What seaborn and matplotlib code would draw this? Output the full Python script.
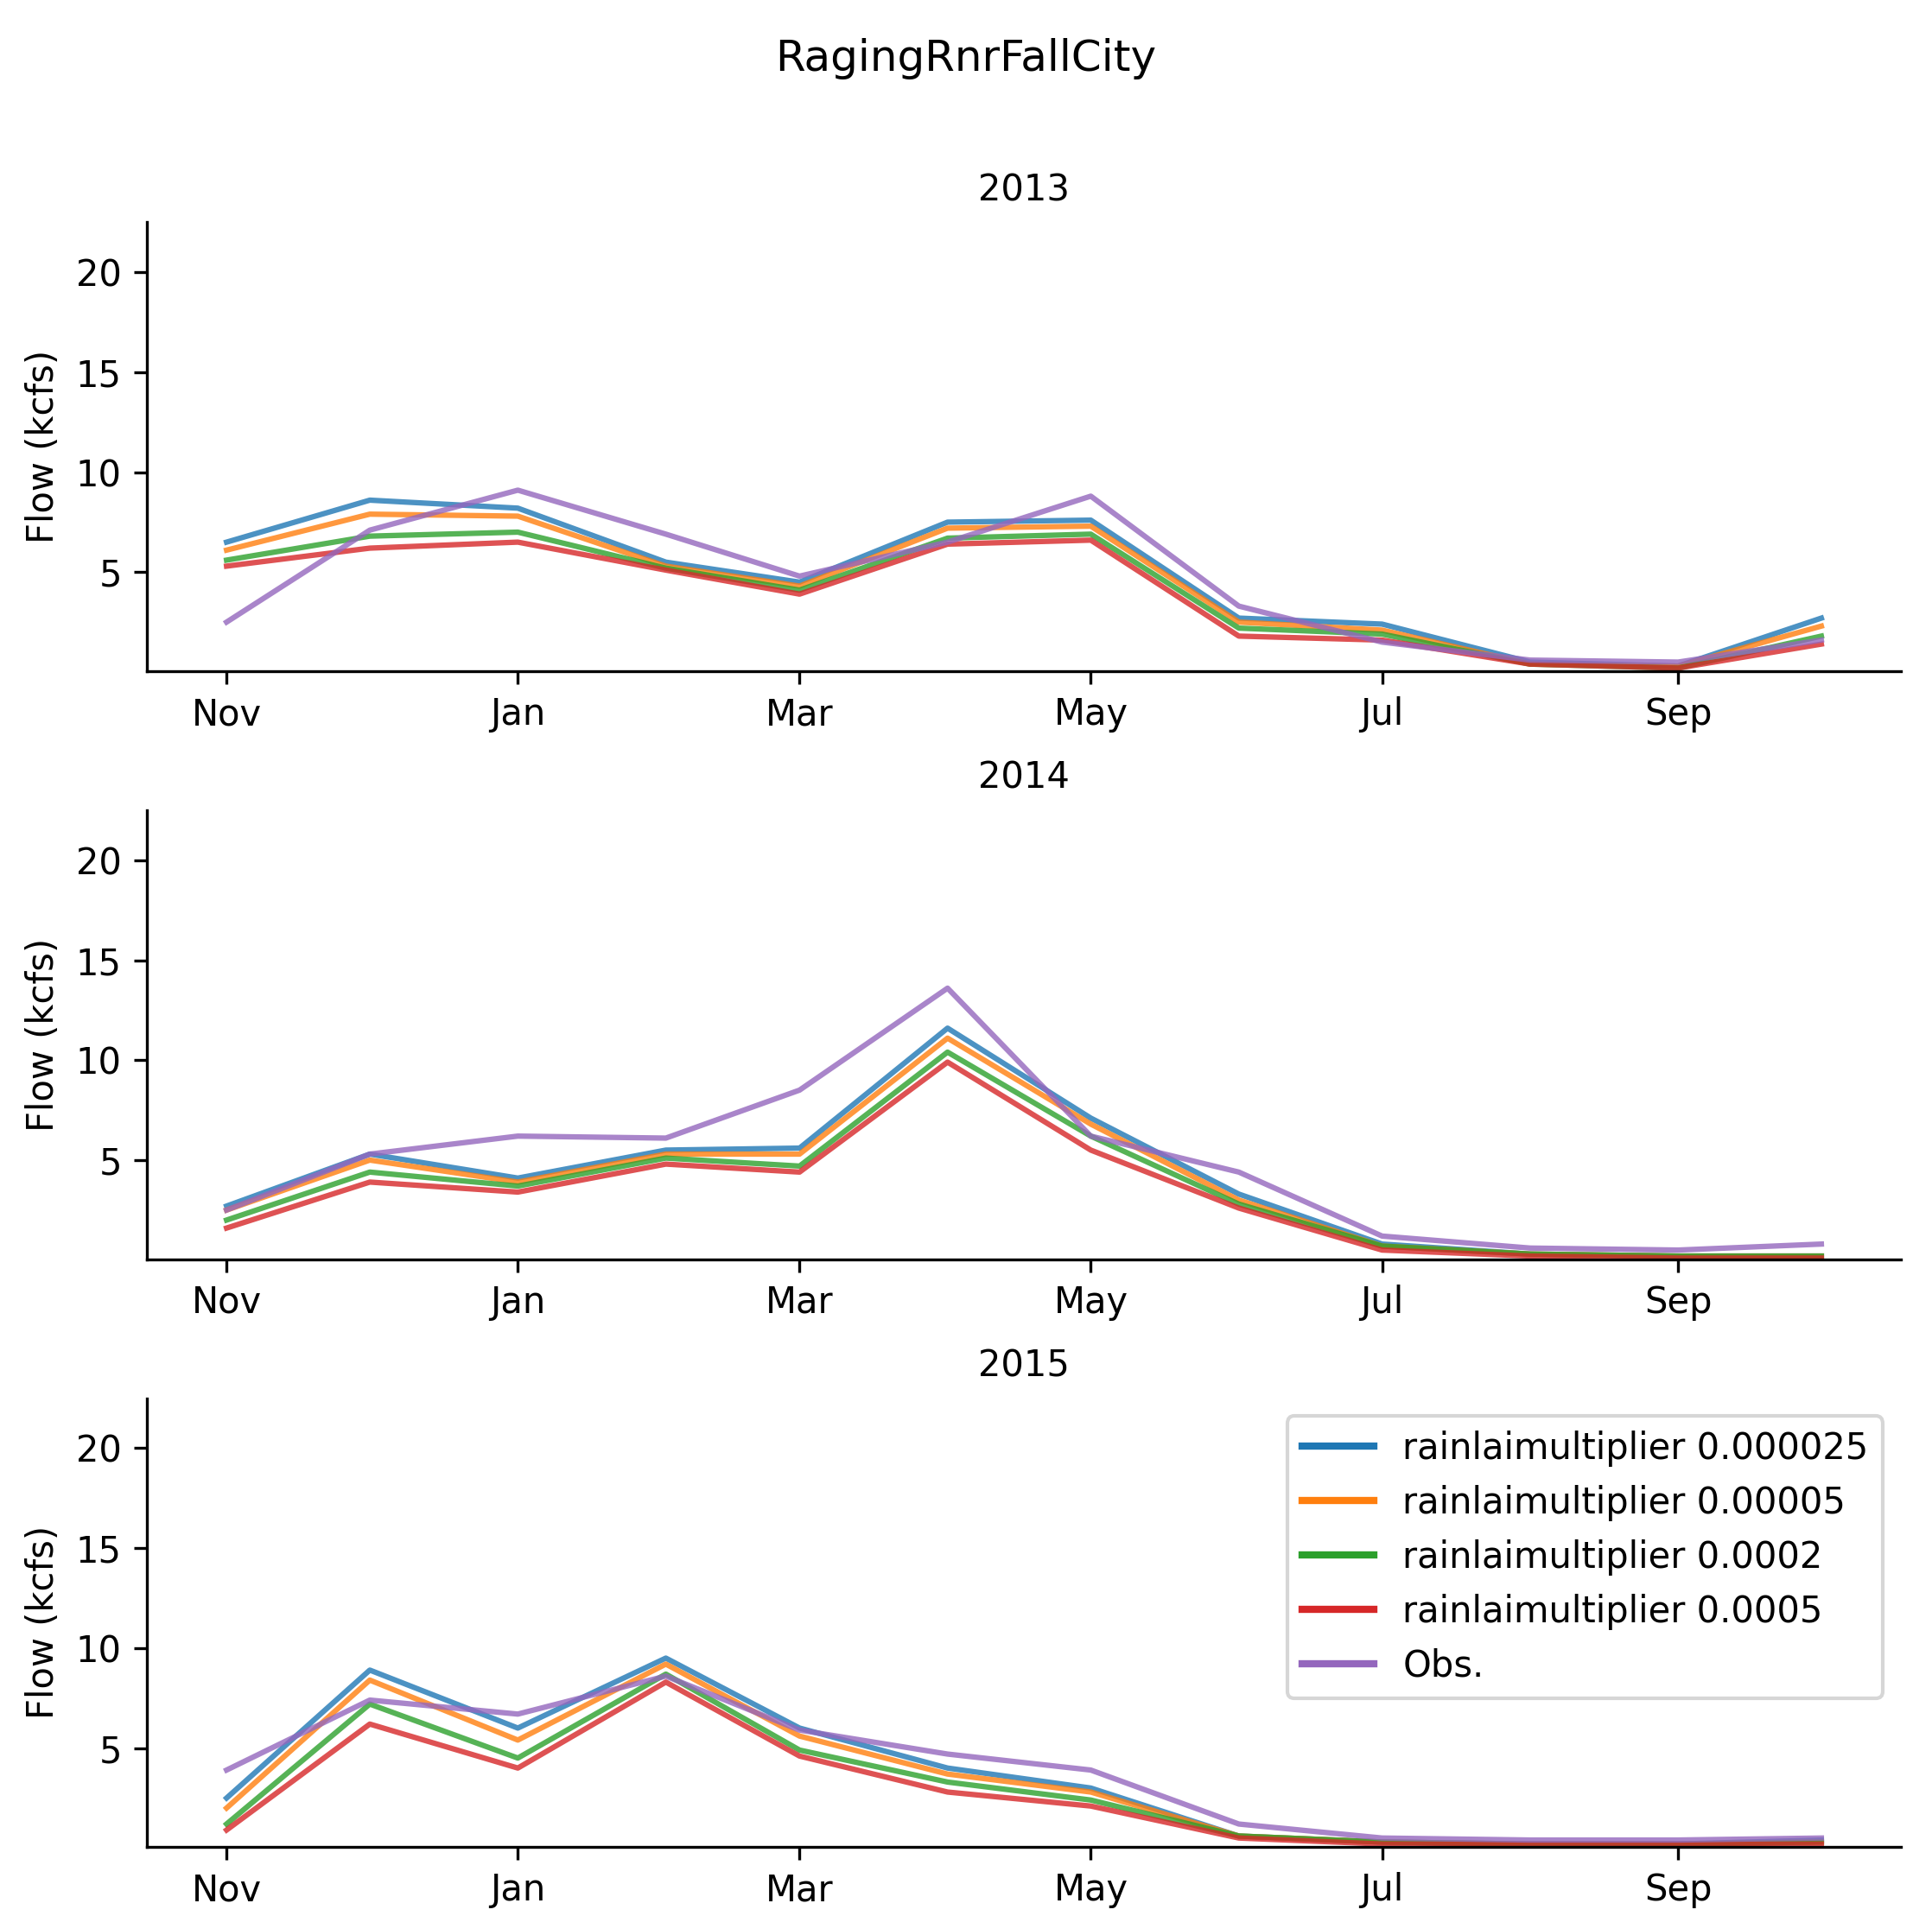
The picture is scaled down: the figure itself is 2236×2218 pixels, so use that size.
import pandas as pd
import matplotlib.pyplot as plt
import matplotlib.dates as mdates
import seaborn as sns

years = [2013, 2014, 2015]
series_names = ['rainlaimultiplier 0.000025', 'rainlaimultiplier 0.00005',
                'rainlaimultiplier 0.0002', 'rainlaimultiplier 0.0005', 'Obs.']

flow_2013 = [
    [6.5, 8.6, 8.2, 5.5, 4.5, 7.5, 7.6, 2.7, 2.4, 0.5, 0.3, 2.7],
    [6.1, 7.9, 7.8, 5.3, 4.3, 7.2, 7.3, 2.5, 2.1, 0.4, 0.3, 2.3],
    [5.6, 6.8, 7.0, 5.2, 4.1, 6.7, 6.9, 2.2, 1.9, 0.4, 0.2, 1.8],
    [5.3, 6.2, 6.5, 5.1, 3.9, 6.4, 6.6, 1.8, 1.6, 0.4, 0.2, 1.4],
    [2.5, 7.1, 9.1, 6.9, 4.8, 6.5, 8.8, 3.3, 1.5, 0.6, 0.5, 1.6],
]
flow_2014 = [
    [2.7, 5.3, 4.1, 5.5, 5.6, 11.6, 7.1, 3.3, 0.8, 0.3, 0.2, 0.2],
    [2.5, 5.0, 3.9, 5.3, 5.3, 11.1, 6.8, 3.0, 0.7, 0.3, 0.2, 0.2],
    [2.0, 4.4, 3.7, 5.1, 4.7, 10.4, 6.2, 2.8, 0.7, 0.3, 0.2, 0.2],
    [1.6, 3.9, 3.4, 4.8, 4.4, 9.9, 5.5, 2.6, 0.5, 0.2, 0.1, 0.1],
    [2.5, 5.3, 6.2, 6.1, 8.5, 13.6, 6.2, 4.4, 1.2, 0.6, 0.5, 0.8],
]
flow_2015 = [
    [2.5, 8.9, 6.0, 9.5, 6.0, 4.0, 3.0, 0.6, 0.3, 0.2, 0.2, 0.4],
    [2.0, 8.4, 5.4, 9.2, 5.6, 3.7, 2.8, 0.6, 0.3, 0.2, 0.2, 0.3],
    [1.2, 7.2, 4.5, 8.7, 4.9, 3.3, 2.4, 0.6, 0.3, 0.2, 0.2, 0.3],
    [0.9, 6.2, 4.0, 8.3, 4.6, 2.8, 2.1, 0.5, 0.2, 0.2, 0.2, 0.2],
    [3.9, 7.4, 6.7, 8.6, 5.9, 4.7, 3.9, 1.2, 0.5, 0.4, 0.4, 0.5],
]
flows = {2013: flow_2013, 2014: flow_2014, 2015: flow_2015}
colors = ['#1f77b4', '#ff7f0e', '#2ca02c', '#d62728', '#9467bd']

fig, axes = plt.subplots(3, 1, figsize=(2236 / 300, 2218 / 300), dpi=300)
for ax, yr in zip(axes, years):
    dates = pd.date_range(f'{yr - 1}-11-01', periods=12, freq='MS')
    rows = []
    for name, vals in zip(series_names, flows[yr]):
        for d, v in zip(dates, vals):
            rows.append({'date': d, 'flow': v, 'run': name})
    df = pd.DataFrame(rows)
    sns.lineplot(data=df, x='date', y='flow', hue='run', palette=colors,
                 alpha=0.8, linewidth=1.5, ax=ax, legend=(yr == 2015))
    ax.set_title(str(yr), fontsize=10)
    ax.set_ylabel('Flow (kcfs)')
    ax.set_xlabel('')
    ax.set_ylim(0.05, 22.5)
    ax.set_yticks([5, 10, 15, 20])
    ax.xaxis.set_major_locator(mdates.MonthLocator(bymonth=[1, 3, 5, 7, 9, 11]))
    ax.xaxis.set_major_formatter(mdates.DateFormatter('%b'))
    sns.despine(ax=ax)

leg = axes[2].legend(loc='upper right')
for line in leg.get_lines():
    line.set_alpha(1)
    line.set_linewidth(2)

fig.suptitle('RagingRnrFallCity', y=0.98)
fig.subplots_adjust(left=0.076, right=0.984, top=0.884, bottom=0.036, hspace=0.31)
plt.savefig('out.png')
